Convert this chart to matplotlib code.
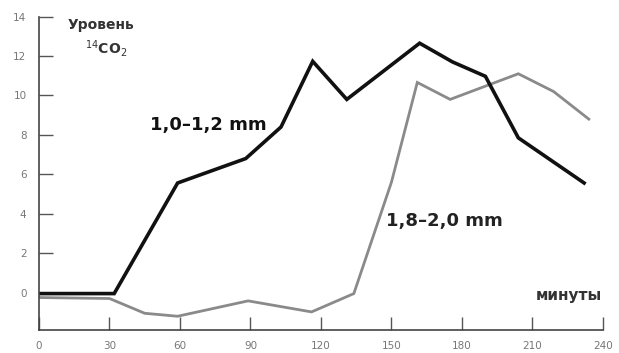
import matplotlib
matplotlib.use("Agg")
import matplotlib.pyplot as plt

# Data
minutes_a = [0, 32, 59, 88, 103, 116.5, 131, 162, 176, 190, 204, 232]
level_a = [-0.05, -0.05, 5.56, 6.8, 8.4, 11.73, 9.8, 12.65, 11.7, 10.97, 7.85, 5.56]

minutes_b = [0, 30, 45, 59, 89, 116, 134, 150, 161, 175, 204, 219, 234]
level_b = [-0.25, -0.3, -1.05, -1.2, -0.42, -0.98, -0.05, 5.6, 10.66, 9.8, 11.1, 10.2, 8.8]

x_ticks = [0, 30, 60, 90, 120, 150, 180, 210, 240]
y_ticks = [0, 2, 4, 6, 8, 10, 12, 14]

fig = plt.figure(figsize=(6.19, 3.53), dpi=100)
ax = fig.add_axes([0.063, 0.065, 0.974 - 0.063, 0.953 - 0.065])

ax.plot(minutes_b, level_b, color="#8a8a8a", lw=2.0, solid_joinstyle="miter")
ax.plot(minutes_a, level_a, color="#111111", lw=2.6, solid_joinstyle="miter")

ax.set_xlim(0, 240)
ax.set_ylim(-1.9, 14)
ax.set_xticks(x_ticks)
ax.set_yticks(y_ticks)
ax.set_xticklabels([str(t) for t in x_ticks])
ax.set_yticklabels([str(t) for t in y_ticks])

for s in ["top", "right"]:
    ax.spines[s].set_visible(False)
for s in ["left", "bottom"]:
    ax.spines[s].set_color("#444444")
    ax.spines[s].set_linewidth(1.2)

ax.tick_params(axis="x", direction="in", length=9.5, width=1.0, color="#555555",
               labelsize=7.5, labelcolor="#777777", pad=8)
ax.tick_params(axis="y", direction="in", length=10, width=1.0, color="#555555",
               labelsize=7.5, labelcolor="#777777", pad=9)

ax.text(26.2, 13.55, "Уровень", fontsize=10,
        fontweight="bold", color="#333333", ha="center", va="center")
ax.text(28.4, 12.4, "$^{14}$CO$_2$", fontsize=10,
        fontweight="bold", color="#333333", ha="center", va="center")

ax.text(47.3, 8.5, "1,0–1,2 mm", fontsize=13,
        fontweight="bold", color="#111111", ha="left", va="center")
ax.text(147.5, 3.63, "1,8–2,0 mm", fontsize=13,
        fontweight="bold", color="#222222", ha="left", va="center")
ax.text(211.5, -0.13, "минуты", fontsize=11,
        fontweight="bold", color="#333333", ha="left", va="center")

fig.savefig("out.png", dpi=100)
